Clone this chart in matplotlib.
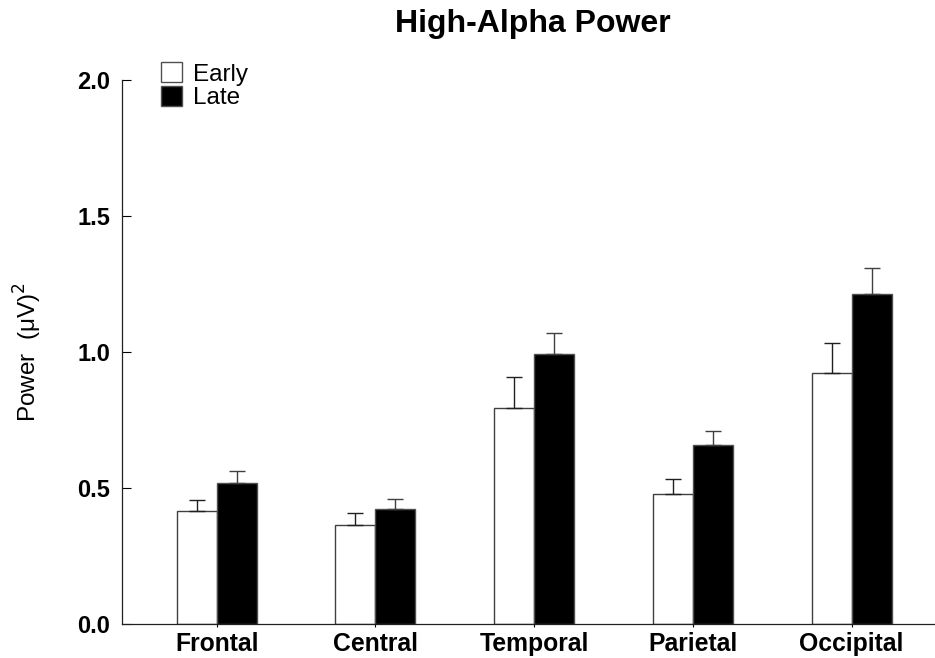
import matplotlib
matplotlib.use("Agg")
import matplotlib.pyplot as plt
import numpy as np
from matplotlib.patches import Patch

categories = ["Frontal", "Central", "Temporal", "Parietal", "Occipital"]
early = [0.417, 0.364, 0.795, 0.477, 0.924]
early_err = [0.038, 0.044, 0.113, 0.056, 0.108]
late = [0.518, 0.421, 0.991, 0.657, 1.214]
late_err = [0.045, 0.040, 0.079, 0.053, 0.096]
yticks = [0.0, 0.5, 1.0, 1.5, 2.0]
ytick_labels = ["0.0", "0.5", "1.0", "1.5", "2.0"]

plt.rcParams['font.family'] = ['Liberation Sans', 'DejaVu Sans']

fig = plt.figure(figsize=(9.35, 6.58), dpi=100)
ax = fig.add_axes([122/935, 1-624/658, 1-122/935, (624-80)/658])

x = np.arange(len(categories))
w = 0.252
edge = '#404040'
ax.bar(x - w, early, width=w, align='edge', color='white', edgecolor=edge, linewidth=1.0,
       yerr=[np.zeros(len(early)), early_err], error_kw=dict(ecolor='#202020', elinewidth=1.0, capsize=5.8, capthick=1.0),
       label='Early', zorder=2)
ax.bar(x, late, width=w, align='edge', color='black', edgecolor='#505050', linewidth=1.0,
       yerr=[np.zeros(len(late)), late_err], error_kw=dict(ecolor='#404040', elinewidth=1.0, capsize=5.8, capthick=1.0),
       label='Late', zorder=2)

ax.set_xlim(-0.597, 4.525)
ax.set_ylim(0, 2.0)
ax.set_yticks(yticks)
ax.set_yticklabels(ytick_labels, fontsize=17, fontweight='bold')
ax.set_xticks(x)
ax.set_xticklabels(categories, fontsize=17.8, fontweight='bold')
ax.tick_params(axis='y', direction='in', length=6.3, width=0.8, pad=8.6)
ax.tick_params(axis='x', direction='out', length=2.5, width=0.8, pad=3)
for s in ['top', 'right']:
    ax.spines[s].set_visible(False)
for s in ['left', 'bottom']:
    ax.spines[s].set_linewidth(0.9)
    ax.spines[s].set_color('#202020')

ax.set_ylabel('Power  (μV)$^{2}$', fontsize=17.5)
ax.yaxis.set_label_coords((44-122)/813, 0.5)

fig.text(533/935, 1-24/658, 'High-Alpha Power', fontsize=23, fontweight='bold',
         ha='center', va='center')

handles = [Patch(facecolor='white', edgecolor='#505050', linewidth=1.0),
           Patch(facecolor='black', edgecolor='#505050', linewidth=1.0)]
fig.legend(handles, ['Early', 'Late'], loc='upper left',
           bbox_to_anchor=(161/935, 1-62/658), frameon=False, fontsize=17.5,
           borderpad=0, borderaxespad=0, labelspacing=0.0, handlelength=0.88,
           handleheight=0.92, handletextpad=0.42)

fig.savefig('out.png', dpi=100)
